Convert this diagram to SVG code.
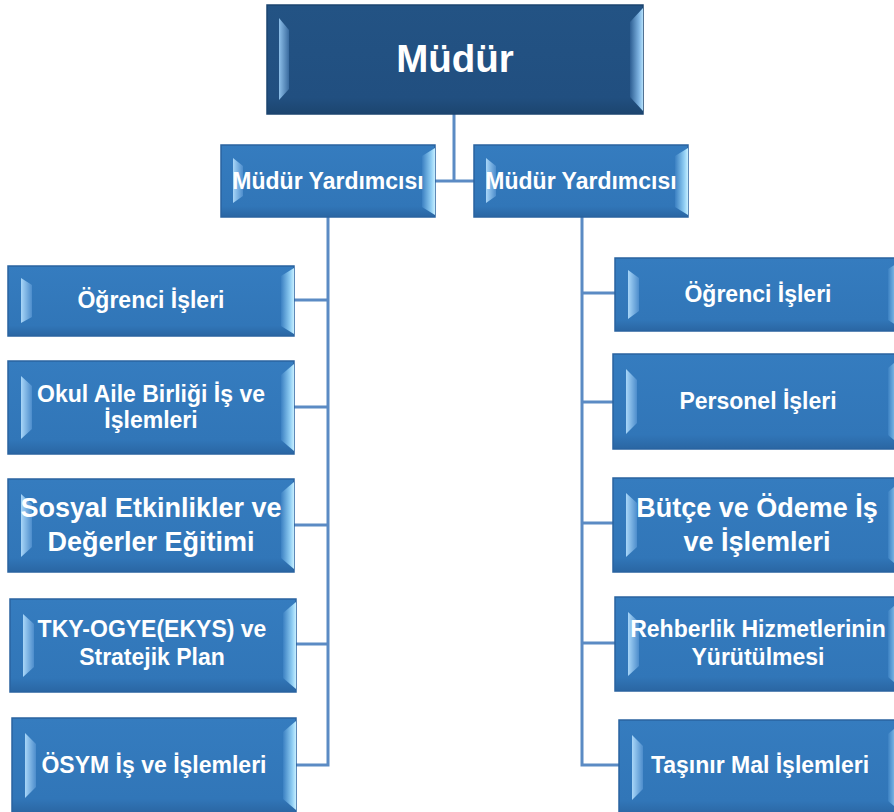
<svg xmlns="http://www.w3.org/2000/svg" width="894" height="812" viewBox="0 0 894 812">
<style>
.face{fill:url(#faceG);stroke:#2a63a0;stroke-width:1.5}
.top{fill:url(#topG);stroke:#1b446f;stroke-width:1.5}
.lf{fill:url(#lfG)}
.rf{fill:url(#rfG)}
.tlf{fill:url(#tlfG)}
.trf{fill:url(#trfG)}
.conn{fill:none;stroke:#5b8bc4;stroke-width:3}
text{font-family:"Liberation Sans",Arial,sans-serif;font-weight:bold;fill:#ffffff;text-anchor:middle}
.s{font-size:23px}
.l{font-size:27px}
.t{font-size:38.5px}
</style>
<defs>
<linearGradient id="faceG" x1="0" y1="0" x2="0" y2="1">
<stop offset="0" stop-color="#357cbf"/><stop offset="0.85" stop-color="#3176b8"/><stop offset="1" stop-color="#2a66a3"/>
</linearGradient>
<linearGradient id="topG" x1="0" y1="0" x2="0" y2="1">
<stop offset="0" stop-color="#235384"/><stop offset="0.85" stop-color="#214f80"/><stop offset="1" stop-color="#1c456f"/>
</linearGradient>
<linearGradient id="lfG" x1="0" y1="0" x2="1" y2="0">
<stop offset="0" stop-color="#a8d6f8"/><stop offset="1" stop-color="#4d8dcc"/>
</linearGradient>
<linearGradient id="rfG" x1="0" y1="0" x2="1" y2="0">
<stop offset="0" stop-color="#3b80c2"/><stop offset="0.7" stop-color="#8fcdf3"/><stop offset="1" stop-color="#c6efff"/>
</linearGradient>
<linearGradient id="tlfG" x1="0" y1="0" x2="1" y2="0">
<stop offset="0" stop-color="#8dbfe9"/><stop offset="1" stop-color="#3a6b9f"/>
</linearGradient>
<linearGradient id="trfG" x1="0" y1="0" x2="1" y2="0">
<stop offset="0" stop-color="#2d5e92"/><stop offset="0.7" stop-color="#7fb5e3"/><stop offset="1" stop-color="#b4e0fa"/>
</linearGradient>
</defs>
<rect width="894" height="812" fill="#ffffff"/>
<g id="connectors">
<path class="conn" d="M454 114 V181 M435 181 H474"/>
<path class="conn" d="M328 217 V765 H296 M294 300 H328 M294 407 H328 M294 525 H328 M296 644 H328"/>
<path class="conn" d="M582 217 V765 H619 M582 293 H615 M582 402 H613 M582 523 H613 M582 643 H615"/>
</g>
<g id="node-mudur">
<rect class="top" x="267" y="5" width="376" height="109"/>
<polygon class="tlf" points="279,18 289,30 289,89 279,100"/>
<polygon class="trf" points="643,8 630,22 630,97 643,111"/>
<text class="t" x="455" y="72">Müdür</text>
</g>
<g id="node-my-left">
<rect class="face" x="221" y="145" width="214" height="72"/>
<polygon class="lf" points="233,158 243,166 243,196 233,203"/>
<polygon class="rf" points="435,148 422,156 422,207 435,215"/>
<text class="s" x="328" y="189">Müdür Yardımcısı</text>
</g>
<g id="node-my-right">
<rect class="face" x="474" y="145" width="214" height="72"/>
<polygon class="lf" points="486,158 496,166 496,196 486,203"/>
<polygon class="rf" points="688,148 675,156 675,207 688,215"/>
<text class="s" x="581" y="189">Müdür Yardımcısı</text>
</g>
<g id="node-l1">
<rect class="face" x="8" y="266" width="286" height="70"/>
<polygon class="lf" points="21,278 32,285 32,317 21,323"/>
<polygon class="rf" points="294,268 281,276 281,326 294,334"/>
<text class="s" x="151" y="308">Öğrenci İşleri</text>
</g>
<g id="node-l2">
<rect class="face" x="8" y="361" width="286" height="93"/>
<polygon class="lf" points="21,376 32,386 32,429 21,439"/>
<polygon class="rf" points="294,364 281,375 281,440 294,451"/>
<text class="s" x="151" y="402">Okul Aile Birliği İş ve</text>
<text class="s" x="151" y="428">İşlemleri</text>
</g>
<g id="node-l3">
<rect class="face" x="8" y="479" width="286" height="93"/>
<polygon class="lf" points="21,494 32,504 32,547 21,557"/>
<polygon class="rf" points="294,482 281,493 281,558 294,569"/>
<text class="l" x="151" y="517">Sosyal Etkinlikler ve</text>
<text class="l" x="151" y="551">Değerler Eğitimi</text>
</g>
<g id="node-l4">
<rect class="face" x="10" y="599" width="286" height="93"/>
<polygon class="lf" points="23,614 34,624 34,667 23,677"/>
<polygon class="rf" points="296,602 283,613 283,678 296,689"/>
<text class="s" x="152" y="637">TKY-OGYE(EKYS) ve</text>
<text class="s" x="152" y="665">Stratejik Plan</text>
</g>
<g id="node-l5">
<rect class="face" x="12" y="718" width="284" height="95"/>
<polygon class="lf" points="25,733 36,744 36,787 25,798"/>
<polygon class="rf" points="296,721 283,732 283,799 296,810"/>
<text class="s" x="154" y="773">ÖSYM İş ve İşlemleri</text>
</g>
<g id="node-r1">
<rect class="face" x="615" y="258" width="286" height="73"/>
<polygon class="lf" points="628,270 639,278 639,311 628,319"/>
<polygon class="rf" points="901,261 888,269 888,320 901,328"/>
<text class="s" x="758" y="302">Öğrenci İşleri</text>
</g>
<g id="node-r2">
<rect class="face" x="613" y="354" width="288" height="95"/>
<polygon class="lf" points="626,369 637,380 637,423 626,434"/>
<polygon class="rf" points="901,357 888,368 888,435 901,446"/>
<text class="s" x="758" y="409">Personel İşleri</text>
</g>
<g id="node-r3">
<rect class="face" x="613" y="478" width="288" height="94"/>
<polygon class="lf" points="626,493 637,503 637,547 626,557"/>
<polygon class="rf" points="901,481 888,492 888,558 901,569"/>
<text class="l" x="757" y="517">Bütçe ve Ödeme İş</text>
<text class="l" x="757" y="551">ve İşlemleri</text>
</g>
<g id="node-r4">
<rect class="face" x="615" y="597" width="286" height="94"/>
<polygon class="lf" points="628,612 639,622 639,666 628,676"/>
<polygon class="rf" points="901,600 888,611 888,677 901,688"/>
<text class="s" x="758" y="637">Rehberlik Hizmetlerinin</text>
<text class="s" x="758" y="665">Yürütülmesi</text>
</g>
<g id="node-r5">
<rect class="face" x="619" y="720" width="282" height="95"/>
<polygon class="lf" points="632,735 643,746 643,789 632,800"/>
<polygon class="rf" points="901,723 888,734 888,801 901,812"/>
<text class="s" x="760" y="773">Taşınır Mal İşlemleri</text>
</g>
</svg>
